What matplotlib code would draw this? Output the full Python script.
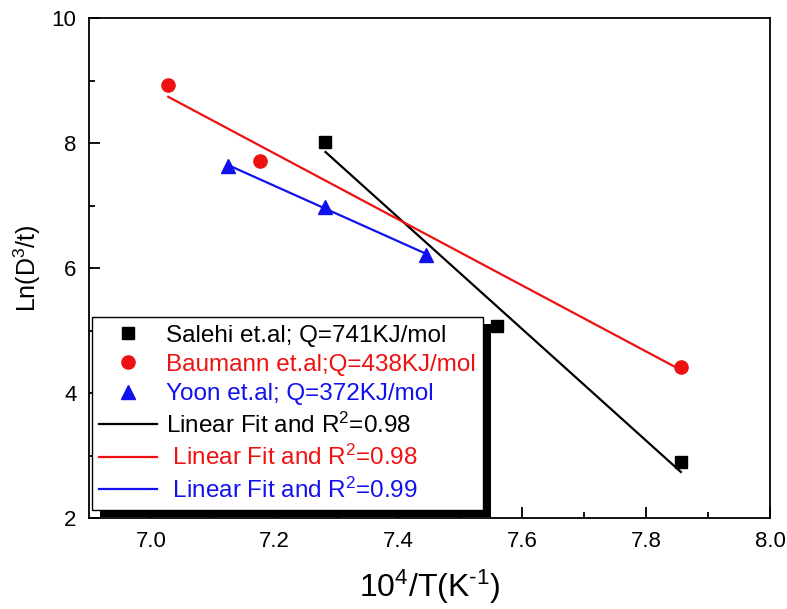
import numpy as np
import matplotlib
matplotlib.use('Agg')
import matplotlib.pyplot as plt
from matplotlib.patches import Rectangle

plt.rcParams['font.family'] = ['Liberation Sans', 'DejaVu Sans']
plt.rcParams['mathtext.fontset'] = 'custom'
plt.rcParams['mathtext.rm'] = 'Liberation Sans'
plt.rcParams['mathtext.it'] = 'Liberation Sans'

# data
salehi_x = [7.282, 7.559, 7.856]
salehi_y = [8.02, 5.07, 2.89]
baumann_x = [7.028, 7.177, 7.856]
baumann_y = [8.93, 7.72, 4.41]
yoon_x = [7.125, 7.282, 7.445]
yoon_y = [7.63, 6.98, 6.21]

labels_pts = ['Salehi et.al; Q=741KJ/mol', 'Baumann et.al;Q=438KJ/mol', 'Yoon et.al; Q=372KJ/mol']
labels_fit = ['Linear Fit and R$^2$=0.98', ' Linear Fit and R$^2$=0.98', ' Linear Fit and R$^2$=0.99']
colours = ['black', '#ee1111', '#1111ee']
markers = ['s', 'o', '^']
msizes = [8, 9.5, 10]


fig = plt.figure(figsize=(7.87, 6.09), dpi=100)
ax = fig.add_axes([0.1131, 0.1494, 0.8653, 0.821])

series = [(salehi_x, salehi_y), (baumann_x, baumann_y), (yoon_x, yoon_y)]
for i, (xs, ys) in enumerate(series):
    ax.plot(xs, ys, linestyle='none', marker=markers[i], color=colours[i],
            markersize=msizes[i], label=labels_pts[i], zorder=3)
for i, (xs, ys) in enumerate(series):
    p = np.polyfit(xs, ys, 1)
    xx = np.array([min(xs), max(xs)])
    ax.plot(xx, np.polyval(p, xx), color=colours[i], lw=1.6, label=labels_fit[i], zorder=2)

ax.set_xlim(6.9, 8.0)
ax.set_ylim(2, 10)
ax.set_xticks([7.0, 7.2, 7.4, 7.6, 7.8, 8.0])
ax.set_xticks(np.arange(7.1, 8.0, 0.2), minor=True)
ax.set_yticks([2, 4, 6, 8, 10])
ax.set_yticks([3, 5, 7, 9], minor=True)
ax.tick_params(which='both', direction='in', top=False, right=False, width=1.3, labelsize=16, pad=9)
ax.tick_params(which='major', length=8)
ax.tick_params(which='minor', length=4)
for s in ax.spines.values():
    s.set_linewidth(1.3)

ax.set_xlabel(r'10$^4$/T(K$^{\text{-}1}$)', fontsize=23, labelpad=12)
ax.set_ylabel('Ln(D$^3$/t)', fontsize=18, labelpad=6)

leg = ax.legend(loc='lower left', bbox_to_anchor=(0.004, 0.016), fontsize=17.5,
                fancybox=False, edgecolor='black', framealpha=1, borderpad=0.3,
                labelspacing=0.3, handlelength=2.4, handletextpad=0.35, borderaxespad=0)
leg.get_frame().set_linewidth(1.0)
for txt, c in zip(leg.get_texts(), colours + colours):
    txt.set_color(c)

# solid black drop shadow behind legend
fig.canvas.draw()
bb = leg.get_window_extent()
inv = ax.transAxes.inverted()
(x0, y0), (x1, y1) = inv.transform([[bb.x0 + 8, bb.y0 - 7], [bb.x1 + 8, bb.y1 - 7]])
ax.add_patch(Rectangle((x0, y0), x1 - x0, y1 - y0, transform=ax.transAxes,
                       facecolor='black', edgecolor='none', zorder=4, clip_on=False))

plt.savefig('out.png', dpi=100)
